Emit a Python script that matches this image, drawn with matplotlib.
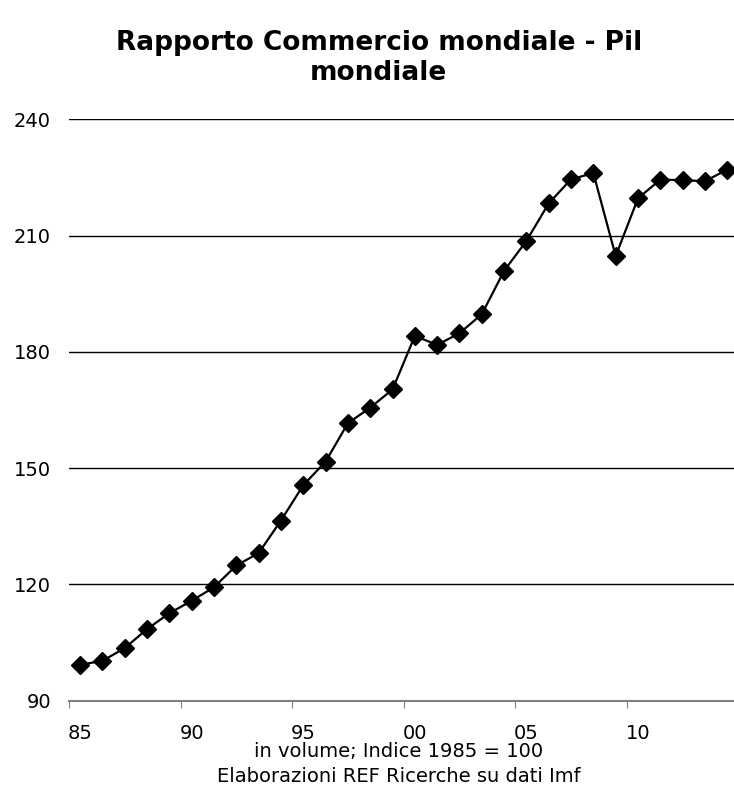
import numpy as np
import matplotlib.pyplot as plt

# data (index, 1985 = 100)
years = list(range(1985, 2015))
ratio = [99.3, 100.3, 103.6, 108.5, 112.6, 115.8, 119.3, 124.9, 128.1, 136.5,
         145.6, 151.7, 161.6, 165.6, 170.3, 184.1, 181.8, 184.8, 189.7, 200.9,
         208.6, 218.3, 224.5, 226.1, 204.7, 219.6, 224.4, 224.3, 224.0, 227.0]
year_labels = ['85', '90', '95', '00', '05', '10']
y_ticks = [90, 120, 150, 180, 210, 240]

plt.rcParams['font.family'] = ['DejaVu Sans']

fig = plt.figure(figsize=(7.34, 8), dpi=100)
ax = fig.add_axes([0.094, 0.124, 0.912, 0.727])

x = np.arange(len(years))
ax.plot(x, ratio, color='black', lw=1.6, marker='D', markersize=9,
        markerfacecolor='black', markeredgecolor='black', clip_on=False, zorder=3)

ax.set_xlim(-0.5, len(years) - 0.5)
ax.set_ylim(90, 240)

# tick marks between categories, labels on the categories
ax.set_xticks(np.arange(-0.5, len(years), 5))
ax.set_xticklabels([])
ax.set_xticks(np.arange(0, len(years), 5), minor=True)
ax.set_xticklabels(year_labels, minor=True)
ax.tick_params(axis='x', which='major', length=5, color='#808080', direction='out')
ax.tick_params(axis='x', which='minor', length=0, labelsize=14, pad=17)

ax.set_yticks(y_ticks)
ax.tick_params(axis='y', length=0, labelsize=14, pad=13)
ax.yaxis.grid(True, color='black', lw=1)
ax.set_axisbelow(True)

for s in ['top', 'right', 'left']:
    ax.spines[s].set_visible(False)
ax.spines['bottom'].set_color('#808080')
ax.spines['bottom'].set_linewidth(1.5)

fig.text(0.543, 0.061, "in volume; Indice 1985 = 100",
         ha='center', va='center', fontsize=14)
fig.text(0.543, 0.029, "Elaborazioni REF Ricerche su dati Imf",
         ha='center', va='center', fontsize=14)

fig.text(0.516, 0.928, "Rapporto Commercio mondiale - Pil\nmondiale",
         ha='center', va='center', fontsize=19, fontweight='bold', linespacing=1.2)

fig.savefig('out.png', dpi=100)
